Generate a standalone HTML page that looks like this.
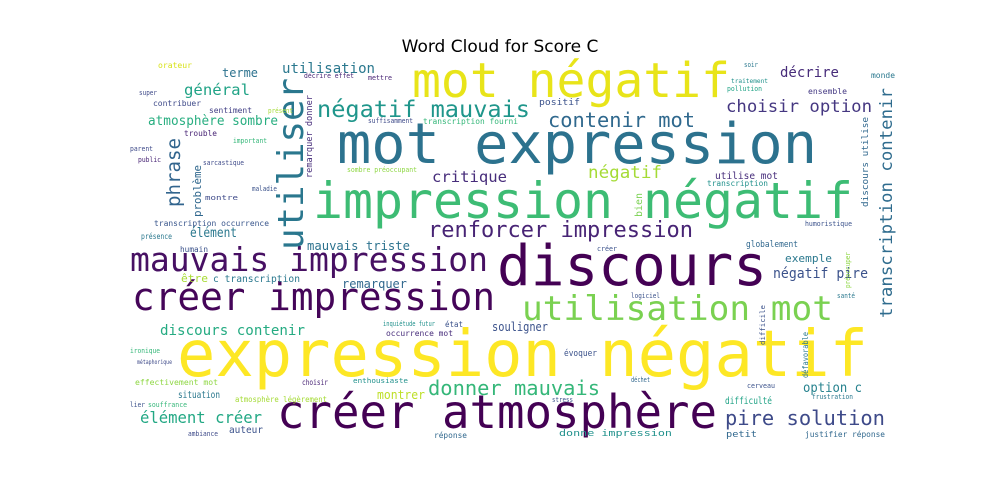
<!DOCTYPE html>
<html><head><meta charset="utf-8"><style>
html,body{margin:0;padding:0;background:#fff;}
svg{display:block;}
text.w{font-family:"DejaVu Sans Mono","Liberation Mono",monospace;}
</style></head><body>
<svg width="1000" height="500" viewBox="0 0 1000 500">
<text x="500" y="52" text-anchor="middle" font-family="DejaVu Sans, Liberation Sans, sans-serif" font-size="17" fill="#000">Word Cloud for Score C</text>
<g>
<text class="w" x="177" y="376" font-size="64" fill="#fde725" textLength="691" lengthAdjust="spacingAndGlyphs">expression négatif</text>
<text class="w" x="497" y="285" font-size="56" fill="#440154" textLength="270" lengthAdjust="spacingAndGlyphs">discours</text>
<text class="w" x="313" y="218" font-size="50" fill="#3dbc74" textLength="540" lengthAdjust="spacingAndGlyphs">impression négatif</text>
<text class="w" x="337" y="163" font-size="56" fill="#2c728e" textLength="480" lengthAdjust="spacingAndGlyphs">mot expression</text>
<text class="w" x="412" y="97" font-size="48" fill="#e8e419" textLength="318" lengthAdjust="spacingAndGlyphs">mot négatif</text>
<text class="w" x="277" y="428" font-size="46" fill="#440154" textLength="440" lengthAdjust="spacingAndGlyphs">créer atmosphère</text>
<text class="w" x="132" y="310" font-size="38" fill="#450559" textLength="363" lengthAdjust="spacingAndGlyphs">créer impression</text>
<text class="w" x="130" y="271" font-size="33" fill="#471063" textLength="358" lengthAdjust="spacingAndGlyphs">mauvais impression</text>
<text class="w" x="522" y="320" font-size="34" fill="#7ad151" textLength="311" lengthAdjust="spacingAndGlyphs">utilisation mot</text>
<text class="w" x="303" y="250" font-size="36" fill="#2a778e" textLength="172" lengthAdjust="spacingAndGlyphs" transform="rotate(-90 303 250)">utiliser</text>
<text class="w" x="317" y="117" font-size="23" fill="#1f968b" textLength="213" lengthAdjust="spacingAndGlyphs">négatif mauvais</text>
<text class="w" x="548" y="127" font-size="20" fill="#30698e" textLength="147" lengthAdjust="spacingAndGlyphs">contenir mot</text>
<text class="w" x="428" y="237" font-size="22" fill="#482475" textLength="265" lengthAdjust="spacingAndGlyphs">renforcer impression</text>
<text class="w" x="428" y="395" font-size="20" fill="#35b779" textLength="172" lengthAdjust="spacingAndGlyphs">donner mauvais</text>
<text class="w" x="725" y="425" font-size="20" fill="#3e4a89" textLength="160" lengthAdjust="spacingAndGlyphs">pire solution</text>
<text class="w" x="140" y="423" font-size="16" fill="#22a884" textLength="122" lengthAdjust="spacingAndGlyphs">élément créer</text>
<text class="w" x="726" y="112" font-size="17" fill="#453781" textLength="146" lengthAdjust="spacingAndGlyphs">choisir option</text>
<text class="w" x="780" y="77" font-size="14" fill="#472c7a" textLength="59" lengthAdjust="spacingAndGlyphs">décrire</text>
<text class="w" x="892" y="318" font-size="17" fill="#2f6c8e" textLength="230" lengthAdjust="spacingAndGlyphs" transform="rotate(-90 892 318)">transcription contenir</text>
<text class="w" x="160" y="335" font-size="14" fill="#25ab82" textLength="145" lengthAdjust="spacingAndGlyphs">discours contenir</text>
<text class="w" x="342" y="288" font-size="12" fill="#31688e" textLength="65" lengthAdjust="spacingAndGlyphs">remarquer</text>
<text class="w" x="432" y="182" font-size="15" fill="#472d7b" textLength="75" lengthAdjust="spacingAndGlyphs">critique</text>
<text class="w" x="588" y="178" font-size="17" fill="#a5db36" textLength="74" lengthAdjust="spacingAndGlyphs">négatif</text>
<text class="w" x="184" y="95" font-size="15" fill="#20a386" textLength="66" lengthAdjust="spacingAndGlyphs">général</text>
<text class="w" x="148" y="125" font-size="13" fill="#28ae80" textLength="130" lengthAdjust="spacingAndGlyphs">atmosphère sombre</text>
<text class="w" x="180" y="207" font-size="19" fill="#32658e" textLength="69" lengthAdjust="spacingAndGlyphs" transform="rotate(-90 180 207)">phrase</text>
<text class="w" x="201" y="217" font-size="11" fill="#31688e" textLength="52" lengthAdjust="spacingAndGlyphs" transform="rotate(-90 201 217)">problème</text>
<text class="w" x="773" y="278" font-size="14" fill="#3b528b" textLength="95" lengthAdjust="spacingAndGlyphs">négatif pire</text>
<text class="w" x="803" y="392" font-size="13" fill="#26828e" textLength="59" lengthAdjust="spacingAndGlyphs">option c</text>
<text class="w" x="282" y="73" font-size="14" fill="#2a788e" textLength="93" lengthAdjust="spacingAndGlyphs">utilisation</text>
<text class="w" x="377" y="399" font-size="12" fill="#bddf26" textLength="48" lengthAdjust="spacingAndGlyphs">montrer</text>
<text class="w" x="181" y="282" font-size="11" fill="#a8db34" textLength="27" lengthAdjust="spacingAndGlyphs">être</text>
<text class="w" x="213" y="282" font-size="10" fill="#2a788e" textLength="87" lengthAdjust="spacingAndGlyphs">c transcription</text>
<text class="w" x="307" y="250" font-size="12" fill="#2c728e" textLength="103" lengthAdjust="spacingAndGlyphs">mauvais triste</text>
<text class="w" x="312" y="178" font-size="9" fill="#472d7b" textLength="83" lengthAdjust="spacingAndGlyphs" transform="rotate(-90 312 178)">remarquer donner</text>
<text class="w" x="222" y="77" font-size="12" fill="#2c728e" textLength="36" lengthAdjust="spacingAndGlyphs">terme</text>
<text class="w" x="158" y="68" font-size="8" fill="#d8e219" textLength="34" lengthAdjust="spacingAndGlyphs">orateur</text>
<text class="w" x="153" y="106" font-size="8" fill="#3e4a89" textLength="48" lengthAdjust="spacingAndGlyphs">contribuer</text>
<text class="w" x="209" y="113" font-size="8" fill="#424086" textLength="43" lengthAdjust="spacingAndGlyphs">sentiment</text>
<text class="w" x="184" y="136" font-size="8" fill="#482475" textLength="33" lengthAdjust="spacingAndGlyphs">trouble</text>
<text class="w" x="154" y="226" font-size="8" fill="#39568c" textLength="115" lengthAdjust="spacingAndGlyphs">transcription occurrence</text>
<text class="w" x="190" y="237" font-size="13" fill="#2a788e" textLength="47" lengthAdjust="spacingAndGlyphs">élément</text>
<text class="w" x="347" y="172" font-size="7" fill="#8fd744" textLength="70" lengthAdjust="spacingAndGlyphs">sombre préoccupant</text>
<text class="w" x="423" y="124" font-size="8" fill="#35b779" textLength="95" lengthAdjust="spacingAndGlyphs">transcription fourni</text>
<text class="w" x="368" y="123" font-size="7" fill="#3e4a89" textLength="45" lengthAdjust="spacingAndGlyphs">suffisamment</text>
<text class="w" x="539" y="105" font-size="9" fill="#3b528b" textLength="41" lengthAdjust="spacingAndGlyphs">positif</text>
<text class="w" x="304" y="78" font-size="7" fill="#482475" textLength="50" lengthAdjust="spacingAndGlyphs">décrire effet</text>
<text class="w" x="368" y="80" font-size="7" fill="#482475" textLength="24" lengthAdjust="spacingAndGlyphs">mettre</text>
<text class="w" x="868" y="207" font-size="9" fill="#31688e" textLength="90" lengthAdjust="spacingAndGlyphs" transform="rotate(-90 868 207)">discours utilise</text>
<text class="w" x="715" y="179" font-size="10" fill="#472d7b" textLength="63" lengthAdjust="spacingAndGlyphs">utilise mot</text>
<text class="w" x="707" y="186" font-size="8" fill="#21918c" textLength="61" lengthAdjust="spacingAndGlyphs">transcription</text>
<text class="w" x="642" y="217" font-size="10" fill="#7ad151" textLength="24" lengthAdjust="spacingAndGlyphs" transform="rotate(-90 642 217)">bien</text>
<text class="w" x="808" y="94" font-size="8" fill="#443983" textLength="39" lengthAdjust="spacingAndGlyphs">ensemble</text>
<text class="w" x="871" y="78" font-size="8" fill="#2a788e" textLength="24" lengthAdjust="spacingAndGlyphs">monde</text>
<text class="w" x="744" y="67" font-size="7" fill="#2a788e" textLength="14" lengthAdjust="spacingAndGlyphs">soir</text>
<text class="w" x="727" y="91" font-size="7" fill="#20a386" textLength="35" lengthAdjust="spacingAndGlyphs">pollution</text>
<text class="w" x="731" y="83" font-size="6" fill="#21918c" textLength="37" lengthAdjust="spacingAndGlyphs">traitement</text>
<text class="w" x="805" y="226" font-size="7" fill="#3b528b" textLength="47" lengthAdjust="spacingAndGlyphs">humoristique</text>
<text class="w" x="746" y="247" font-size="9" fill="#31688e" textLength="52" lengthAdjust="spacingAndGlyphs">globalement</text>
<text class="w" x="785" y="262" font-size="11" fill="#2a788e" textLength="47" lengthAdjust="spacingAndGlyphs">exemple</text>
<text class="w" x="725" y="404" font-size="10" fill="#20a386" textLength="47" lengthAdjust="spacingAndGlyphs">difficulté</text>
<text class="w" x="812" y="399" font-size="7" fill="#2a788e" textLength="41" lengthAdjust="spacingAndGlyphs">frustration</text>
<text class="w" x="805" y="437" font-size="8" fill="#31688e" textLength="80" lengthAdjust="spacingAndGlyphs">justifier réponse</text>
<text class="w" x="726" y="437" font-size="9" fill="#31688e" textLength="31" lengthAdjust="spacingAndGlyphs">petit</text>
<text class="w" x="808" y="378" font-size="8" fill="#2a788e" textLength="46" lengthAdjust="spacingAndGlyphs" transform="rotate(-90 808 378)">défavorable</text>
<text class="w" x="765" y="345" font-size="7" fill="#3b528b" textLength="40" lengthAdjust="spacingAndGlyphs" transform="rotate(-90 765 345)">difficile</text>
<text class="w" x="747" y="388" font-size="7" fill="#3b528b" textLength="28" lengthAdjust="spacingAndGlyphs">cerveau</text>
<text class="w" x="631" y="382" font-size="7" fill="#31688e" textLength="19" lengthAdjust="spacingAndGlyphs">déchet</text>
<text class="w" x="837" y="298" font-size="7" fill="#2a788e" textLength="18" lengthAdjust="spacingAndGlyphs">santé</text>
<text class="w" x="631" y="298" font-size="7" fill="#3b528b" textLength="29" lengthAdjust="spacingAndGlyphs">logiciel</text>
<text class="w" x="850" y="288" font-size="7" fill="#8fd744" textLength="36" lengthAdjust="spacingAndGlyphs" transform="rotate(-90 850 288)">préoccuper</text>
<text class="w" x="492" y="331" font-size="12" fill="#3b528b" textLength="56" lengthAdjust="spacingAndGlyphs">souligner</text>
<text class="w" x="386" y="336" font-size="8" fill="#472d7b" textLength="67" lengthAdjust="spacingAndGlyphs">occurrence mot</text>
<text class="w" x="564" y="356" font-size="9" fill="#3b528b" textLength="33" lengthAdjust="spacingAndGlyphs">évoquer</text>
<text class="w" x="445" y="327" font-size="8" fill="#3b528b" textLength="18" lengthAdjust="spacingAndGlyphs">état</text>
<text class="w" x="383" y="326" font-size="7" fill="#21918c" textLength="52" lengthAdjust="spacingAndGlyphs">inquiétude futur</text>
<text class="w" x="434" y="438" font-size="8" fill="#31688e" textLength="33" lengthAdjust="spacingAndGlyphs">réponse</text>
<text class="w" x="552" y="402" font-size="7" fill="#3b528b" textLength="21" lengthAdjust="spacingAndGlyphs">stress</text>
<text class="w" x="135" y="385" font-size="8" fill="#8fd744" textLength="83" lengthAdjust="spacingAndGlyphs">effectivement mot</text>
<text class="w" x="178" y="398" font-size="10" fill="#2a788e" textLength="42" lengthAdjust="spacingAndGlyphs">situation</text>
<text class="w" x="235" y="402" font-size="8" fill="#a5db36" textLength="92" lengthAdjust="spacingAndGlyphs">atmosphère légèrement</text>
<text class="w" x="229" y="433" font-size="10" fill="#3b528b" textLength="34" lengthAdjust="spacingAndGlyphs">auteur</text>
<text class="w" x="180" y="252" font-size="8" fill="#3b528b" textLength="28" lengthAdjust="spacingAndGlyphs">humain</text>
<text class="w" x="130" y="353" font-size="7" fill="#35b779" textLength="30" lengthAdjust="spacingAndGlyphs">ironique</text>
<text class="w" x="148" y="407" font-size="7" fill="#35b779" textLength="39" lengthAdjust="spacingAndGlyphs">souffrance</text>
<text class="w" x="130" y="407" font-size="7" fill="#3b528b" textLength="15" lengthAdjust="spacingAndGlyphs">lier</text>
<text class="w" x="188" y="436" font-size="7" fill="#3e4a89" textLength="30" lengthAdjust="spacingAndGlyphs">ambiance</text>
<text class="w" x="137" y="364" font-size="6" fill="#3e4a89" textLength="35" lengthAdjust="spacingAndGlyphs">métaphorique</text>
<text class="w" x="141" y="239" font-size="8" fill="#2a788e" textLength="31" lengthAdjust="spacingAndGlyphs">présence</text>
<text class="w" x="138" y="162" font-size="7" fill="#482475" textLength="23" lengthAdjust="spacingAndGlyphs">public</text>
<text class="w" x="130" y="151" font-size="7" fill="#3e4a89" textLength="23" lengthAdjust="spacingAndGlyphs">parent</text>
<text class="w" x="139" y="95" font-size="7" fill="#3e4a89" textLength="18" lengthAdjust="spacingAndGlyphs">super</text>
<text class="w" x="559" y="436" font-size="9" fill="#21918c" textLength="113" lengthAdjust="spacingAndGlyphs">donne impression</text>
<text class="w" x="597" y="251" font-size="7" fill="#3b528b" textLength="20" lengthAdjust="spacingAndGlyphs">créer</text>
<text class="w" x="268" y="113" font-size="7" fill="#a5db36" textLength="25" lengthAdjust="spacingAndGlyphs">présent</text>
<text class="w" x="233" y="143" font-size="7" fill="#35b779" textLength="34" lengthAdjust="spacingAndGlyphs">important</text>
<text class="w" x="203" y="165" font-size="7" fill="#3e4a89" textLength="41" lengthAdjust="spacingAndGlyphs">sarcastique</text>
<text class="w" x="252" y="191" font-size="7" fill="#3b528b" textLength="25" lengthAdjust="spacingAndGlyphs">maladie</text>
<text class="w" x="205" y="200" font-size="7" fill="#3e4a89" textLength="33" lengthAdjust="spacingAndGlyphs">montre</text>
<text class="w" x="302" y="385" font-size="8" fill="#482475" textLength="26" lengthAdjust="spacingAndGlyphs">choisir</text>
<text class="w" x="353" y="383" font-size="7" fill="#21918c" textLength="55" lengthAdjust="spacingAndGlyphs">enthousiaste</text>
</g>
</svg>
</body></html>
